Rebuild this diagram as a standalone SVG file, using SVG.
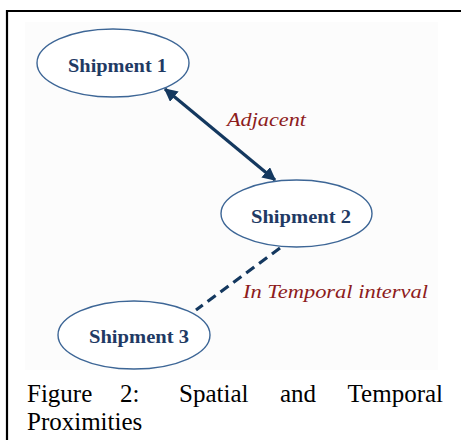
<svg xmlns="http://www.w3.org/2000/svg" width="461" height="440" viewBox="0 0 461 440">
  <style>
    .node ellipse { fill: #ffffff; stroke: #3d6696; stroke-width: 1.4; }
    .node text { font-family: "Liberation Serif", serif; font-weight: bold; font-size: 19px; fill: #1f3a64; }
    .lbl { font-family: "Liberation Serif", serif; font-style: italic; font-size: 18px; fill: #8e1c1c; }
    .cap { font-family: "Liberation Serif", serif; font-size: 25px; fill: #000000; }
    .link { stroke: #14385f; stroke-width: 3.2; fill: none; }
  </style>
  <defs>
    <marker id="ah" viewBox="0 0 10 10" refX="9" refY="5" markerWidth="4.2" markerHeight="4.2" orient="auto-start-reverse" markerUnits="strokeWidth">
      <path d="M0,0 L10,5 L0,10 z" fill="#14385f"/>
    </marker>
  </defs>

  <rect x="0" y="0" width="461" height="440" fill="#ffffff"/>
  <!-- frame -->
  <path d="M7,440 L7,11 L461,11" fill="none" stroke="#000000" stroke-width="2.2"/>
  <!-- drawing area -->
  <rect x="25" y="22" width="413" height="348" fill="#fcfcfc"/>

  <g id="connectors">
    <line class="link" x1="165" y1="89" x2="275" y2="180" marker-start="url(#ah)" marker-end="url(#ah)"/>
    <line class="link" x1="280" y1="248" x2="196" y2="310" stroke-width="3.6" stroke-dasharray="10,6"/>
    <text class="lbl" x="227" y="126" textLength="79" lengthAdjust="spacingAndGlyphs">Adjacent</text>
    <text class="lbl" x="243" y="298" textLength="185" lengthAdjust="spacingAndGlyphs">In Temporal interval</text>
  </g>

  <g id="shipment1" class="node">
    <ellipse cx="113" cy="63" rx="76" ry="34"/>
    <text x="68" y="72" textLength="99" lengthAdjust="spacingAndGlyphs">Shipment 1</text>
  </g>
  <g id="shipment2" class="node">
    <ellipse cx="296.5" cy="213.5" rx="75.5" ry="33.5"/>
    <text x="251" y="223" textLength="100" lengthAdjust="spacingAndGlyphs">Shipment 2</text>
  </g>
  <g id="shipment3" class="node">
    <ellipse cx="134" cy="335" rx="76" ry="34"/>
    <text x="89" y="343" textLength="100" lengthAdjust="spacingAndGlyphs">Shipment 3</text>
  </g>

  <g id="caption">
    <text class="cap" x="27" y="402">Figure</text>
    <text class="cap" x="120" y="402">2:</text>
    <text class="cap" x="179" y="402">Spatial</text>
    <text class="cap" x="280" y="402">and</text>
    <text class="cap" x="443" y="402" text-anchor="end">Temporal</text>
    <text class="cap" x="27" y="430">Proximities</text>
  </g>
</svg>
